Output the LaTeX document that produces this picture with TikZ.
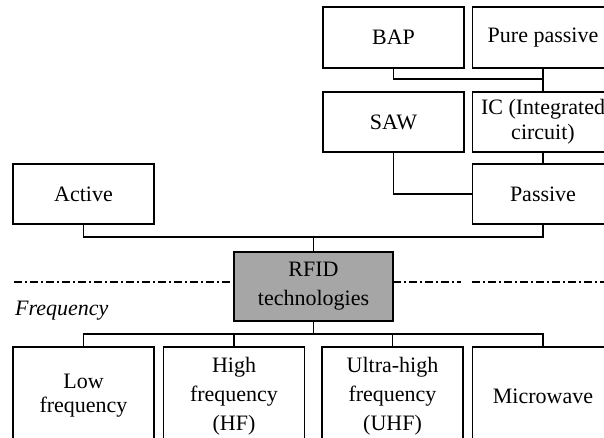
\documentclass[tikz,border=0pt]{standalone}
\usepackage{fontspec}
\setmainfont{Liberation Serif}
\usepackage{tikz}
\usetikzlibrary{calc}
\definecolor{rfidgray}{RGB}{166,166,166}

\begin{document}
\begin{tikzpicture}[x=1pt,y=-1pt,
    box/.style={draw,line width=1.4pt,minimum width=141pt,minimum height=60pt,
      align=center,inner sep=2pt,font=\fontsize{22}{29}\selectfont},
    freqbox/.style={box,minimum height=98pt},
    rootbox/.style={box,fill=rfidgray,minimum width=159pt,minimum height=69pt},
    link/.style={draw,line width=1.1pt},
    sepline/.style={draw,line width=1.1pt,dash pattern=on 8pt off 3pt on 2pt off 3pt}]
      \clip (0,0) rectangle (604,438);

      \node[box,minimum height=61pt] (bap) at (393.5,37.7) {BAP};
      \node[box,minimum height=61pt] (pure) at (543,37.7) {Pure passive};
      \node[box] (saw) at (393.5,122) {SAW};
      \node[box,font=\fontsize{22}{25}\selectfont] (ic) at (543,122) {IC (Integrated\\circuit)};
      \node[box] (active) at (83.5,194) {Active};
      \node[box] (passive) at (543,194) {Passive};
      \node[rootbox] (rfid) at (313.5,286.5) {RFID\\technologies};

      \node[freqbox,font=\fontsize{22}{24}\selectfont] (low) at (83.5,396) {Low\\frequency};
      \node[freqbox] (high) at (234,396) {High\\frequency\\(HF)};
      \node[freqbox] (uhf) at (392.5,396) {Ultra-high\\frequency\\(UHF)};
      \node[freqbox] (micro) at (543,396) {Microwave};

      \node[anchor=base west,inner sep=0pt,font=\fontsize{22}{25}\selectfont\itshape] (freq) at (15,315) {Frequency};

      \coordinate (capbus) at (0,79);
      \coordinate (upbus) at (0,237);
      \coordinate (lowbus) at (0,334);

      \path[link]
      (bap.south) |- (capbus -| pure.south) -- (pure.south)
      (pure.south) -- (ic.north)
      (ic.south) -- (passive.north)
      (saw.south) |- (passive.west)
      (active.south) |- (upbus -| passive.south) -- (passive.south)
      (rfid.north) -- (rfid.north |- upbus)
      (rfid.south) -- (rfid.south |- lowbus)
      (low.north) |- (lowbus -| micro.north) -- (micro.north)
      (high.north) -- (high.north |- lowbus)
      (uhf.north) -- (uhf.north |- lowbus);

      \path[sepline] (14,282) -- (234,282) (393,282) -- (461,282) (472,282) -- (604,282);
\end{tikzpicture}
\end{document}
